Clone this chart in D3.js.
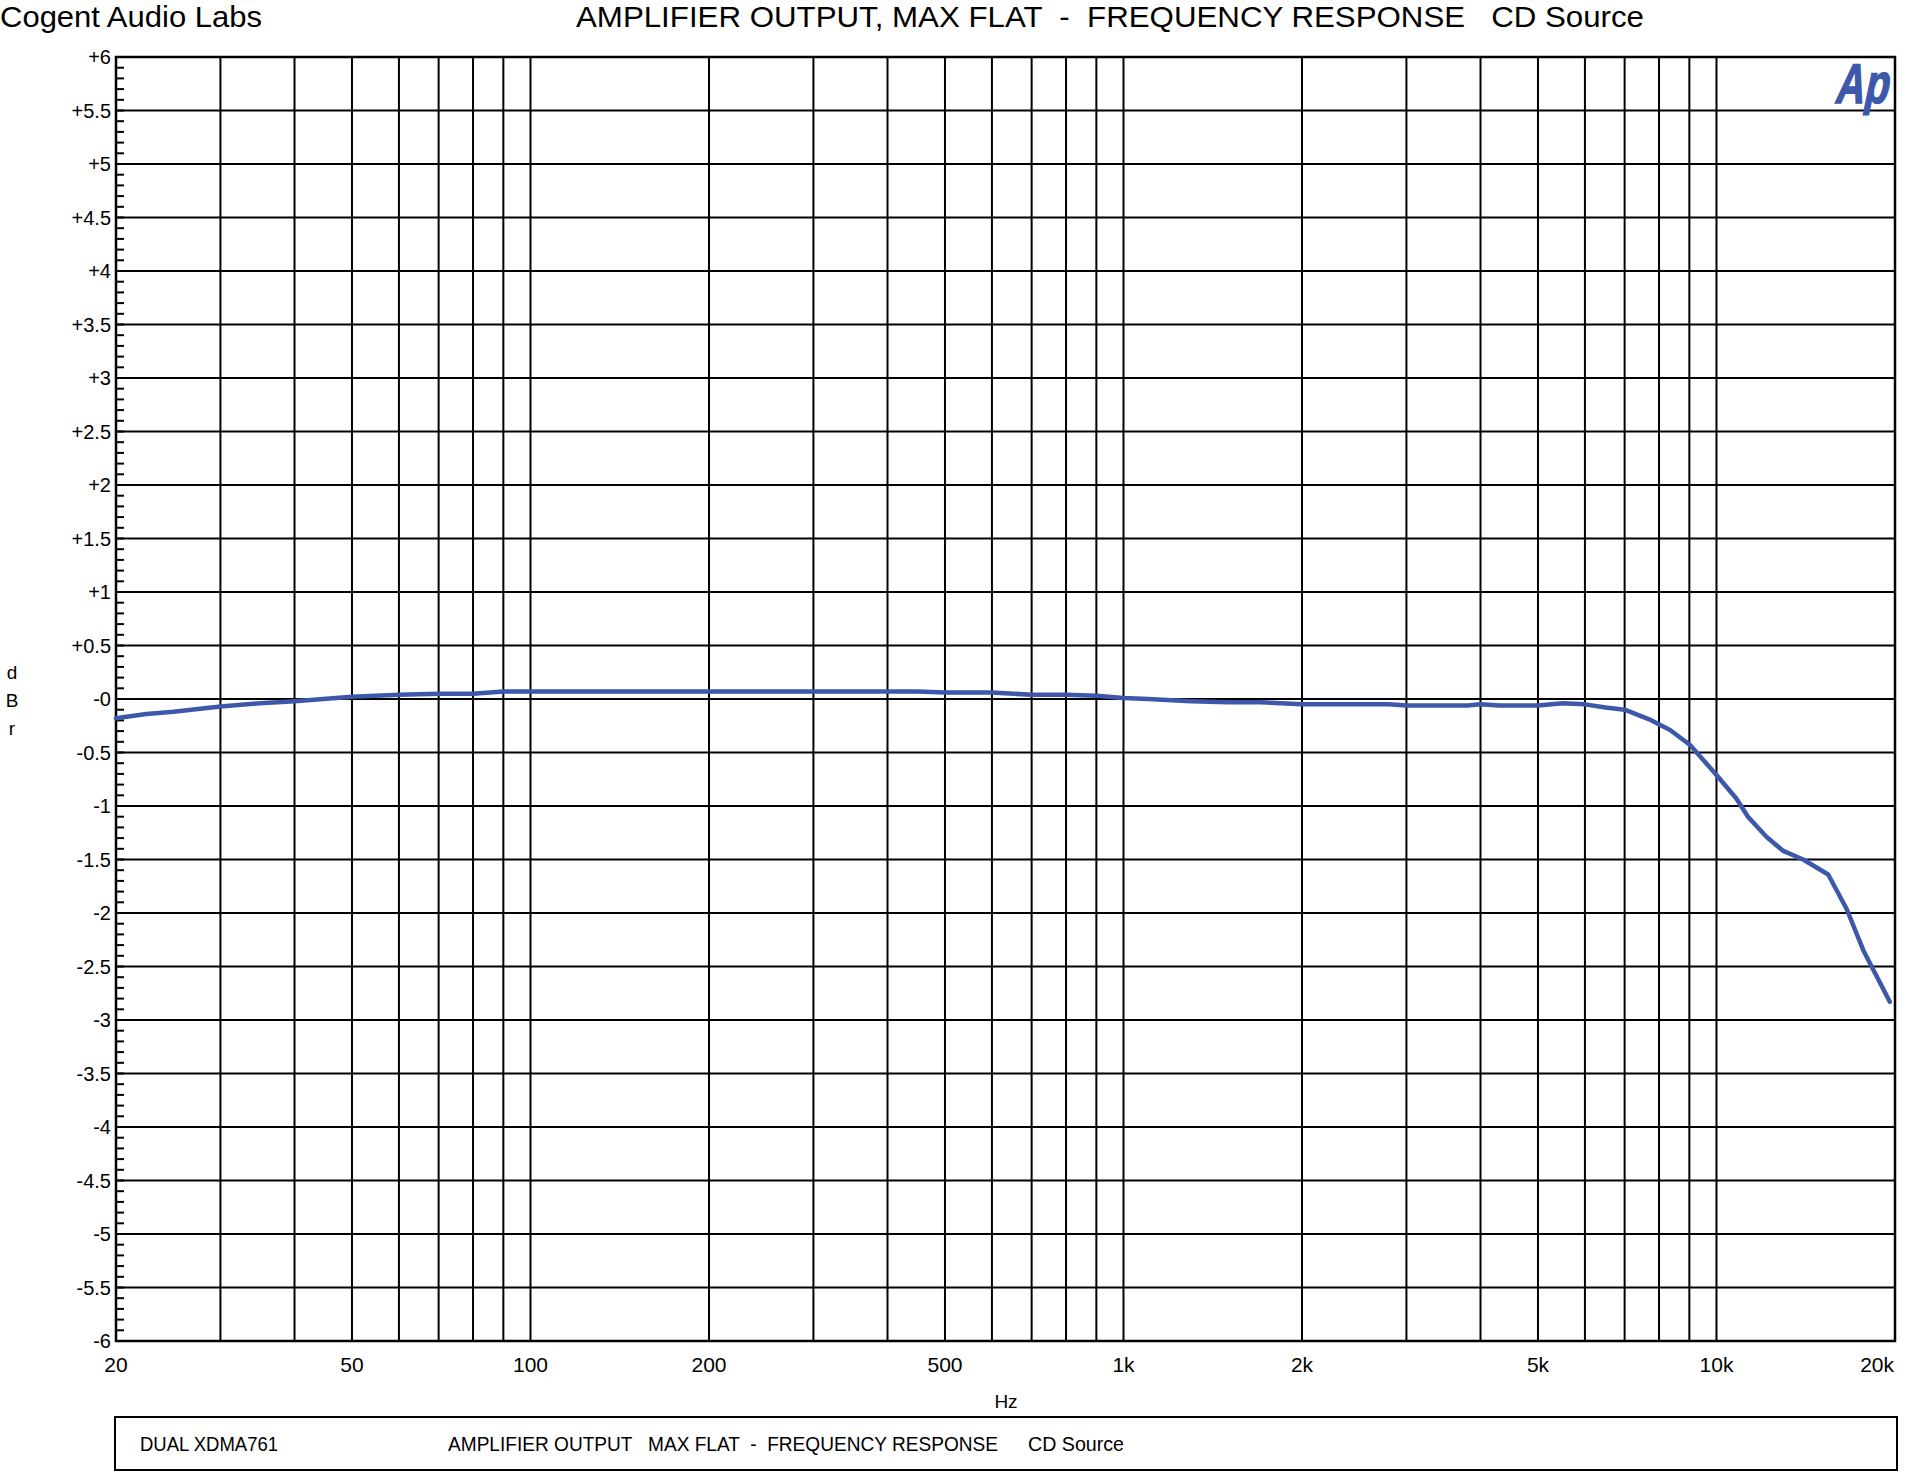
<!DOCTYPE html>
<html><head><meta charset="utf-8">
<script src="https://cdn.jsdelivr.net/npm/d3@7"></script>
<style>
html,body{margin:0;padding:0;background:#fff;}
svg text{font-family:"Liberation Sans",Arial,sans-serif;white-space:pre;fill:#000;}
</style></head>
<body>
<svg id="chart" width="1910" height="1483"></svg>
<script>
// ---- data ----
const freqHz = [20, 22.5, 25, 30, 35, 40, 50, 60, 70, 80, 90, 100, 200, 300, 400, 450, 500, 600, 700, 800, 900, 1000, 1100, 1300, 1500, 1700, 2000, 2500, 2800, 3000, 3500, 3800, 4000, 4300, 5000, 5500, 6000, 6500, 7000, 7700, 8350, 9025, 10000, 10800, 11300, 12150, 12960, 14000, 15430, 16570, 17690, 19600];
const levelDb = [-0.18, -0.14, -0.12, -0.07, -0.04, -0.02, 0.02, 0.04, 0.05, 0.05, 0.07, 0.07, 0.07, 0.07, 0.07, 0.07, 0.06, 0.06, 0.04, 0.04, 0.03, 0.01, 0.0, -0.02, -0.03, -0.03, -0.05, -0.05, -0.05, -0.06, -0.06, -0.06, -0.05, -0.06, -0.06, -0.04, -0.05, -0.08, -0.1, -0.19, -0.29, -0.43, -0.71, -0.93, -1.1, -1.29, -1.42, -1.5, -1.64, -1.96, -2.35, -2.83];
const xTickValues = [20, 50, 100, 200, 500, 1000, 2000, 5000, 10000, 20000];
const xTickLabels = ["20", "50", "100", "200", "500", "1k", "2k", "5k", "10k", "20k"];
const xGridValues = [30,40,50,60,70,80,90,100,200,300,400,500,600,700,800,900,1000,2000,3000,4000,5000,6000,7000,8000,9000,10000];
const yTickValues = d3.range(-6, 6.001, 0.5).map(v => +v.toFixed(1));
const yTickLabels = yTickValues.map(v => v > 0 ? "+" + v : (v === 0 ? "-0" : String(v)));
const titleText = "AMPLIFIER OUTPUT, MAX FLAT  -  FREQUENCY RESPONSE   CD Source";
const companyText = "Cogent Audio Labs";
const legendTexts = ["DUAL XDMA761", "AMPLIFIER OUTPUT   MAX FLAT  -  FREQUENCY RESPONSE", "CD Source"];

// ---- layout ----
const L = 116, R = 1895, T = 57, B = 1341;
const blue = "#3d58ab";
const svg = d3.select("#chart");
const x = d3.scaleLog().domain([20, 20000]).range([L, R]);
const y = d3.scaleLinear().domain([-6, 6]).range([B, T]);

// grid
svg.append("g").selectAll("line").data(yTickValues).join("line")
  .attr("x1", L).attr("x2", R).attr("y1", d => y(d)).attr("y2", d => y(d))
  .attr("stroke", "#000").attr("stroke-width", 2);
svg.append("g").selectAll("line").data(xGridValues).join("line")
  .attr("x1", d => x(d)).attr("x2", d => x(d)).attr("y1", T).attr("y2", B)
  .attr("stroke", "#000").attr("stroke-width", 2);

// minor ticks on left
const minor = d3.range(-60, 61).map(v => v / 10);
svg.append("g").selectAll("line").data(minor).join("line")
  .attr("x1", L).attr("x2", L + 8).attr("y1", d => y(d)).attr("y2", d => y(d))
  .attr("stroke", "#000").attr("stroke-width", 2);

// frame
svg.append("rect").attr("x", L).attr("y", T).attr("width", R - L).attr("height", B - T)
  .attr("fill", "none").attr("stroke", "#000").attr("stroke-width", 2.5);

// y labels
svg.append("g").selectAll("text").data(yTickValues).join("text")
  .attr("x", L - 5).attr("y", d => y(d) + 7).attr("text-anchor", "end")
  .attr("font-size", 20).text((d, i) => yTickLabels[i]);

// x labels
svg.append("g").selectAll("text").data(xTickValues).join("text")
  .attr("x", (d, i) => i === xTickValues.length - 1 ? R - 1 : x(d))
  .attr("y", 1372)
  .attr("text-anchor", (d, i) => i === xTickValues.length - 1 ? "end" : "middle")
  .attr("font-size", 21).text((d, i) => xTickLabels[i]);

// axis titles
svg.append("text").attr("x", 1006).attr("y", 1408).attr("text-anchor", "middle").attr("font-size", 19).text("Hz");
["d", "B", "r"].forEach((c, i) => {
  svg.append("text").attr("x", 12).attr("y", 679 + i * 28).attr("text-anchor", "middle").attr("font-size", 19).text(c);
});

// curve
const line = d3.line().x((d, i) => x(freqHz[i])).y(d => y(d)).curve(d3.curveLinear);
svg.append("path").datum(levelDb).attr("d", line)
  .attr("fill", "none").attr("stroke", blue).attr("stroke-width", 4.5)
  .attr("stroke-linejoin", "round").attr("stroke-linecap", "round");

// titles
svg.append("text").attr("x", 0).attr("y", 27).attr("font-size", 29)
  .attr("textLength", 262).attr("lengthAdjust", "spacingAndGlyphs").text(companyText);
svg.append("text").attr("x", 576).attr("y", 27).attr("font-size", 29)
  .attr("textLength", 1068).attr("lengthAdjust", "spacingAndGlyphs").text(titleText);

// Ap logo
svg.append("text").attr("transform", "translate(1834,103) skewX(-12)")
  .attr("x", 0).attr("y", 0).attr("font-size", 56)
  .attr("font-weight", "bold")
  .attr("textLength", 53).attr("lengthAdjust", "spacingAndGlyphs")
  .style("fill", blue).style("stroke", blue).style("stroke-width", 1.5).text("Ap");

// legend box
svg.append("rect").attr("x", 115).attr("y", 1417).attr("width", 1782).attr("height", 53)
  .attr("fill", "none").attr("stroke", "#000").attr("stroke-width", 2);
const legX = [140, 448, 1028], legW = [138, 550, 96];
legendTexts.forEach((t, i) => {
  svg.append("text").attr("x", legX[i]).attr("y", 1451).attr("font-size", 19.5)
    .attr("textLength", legW[i]).attr("lengthAdjust", "spacingAndGlyphs").text(t);
});
</script>
</body></html>
